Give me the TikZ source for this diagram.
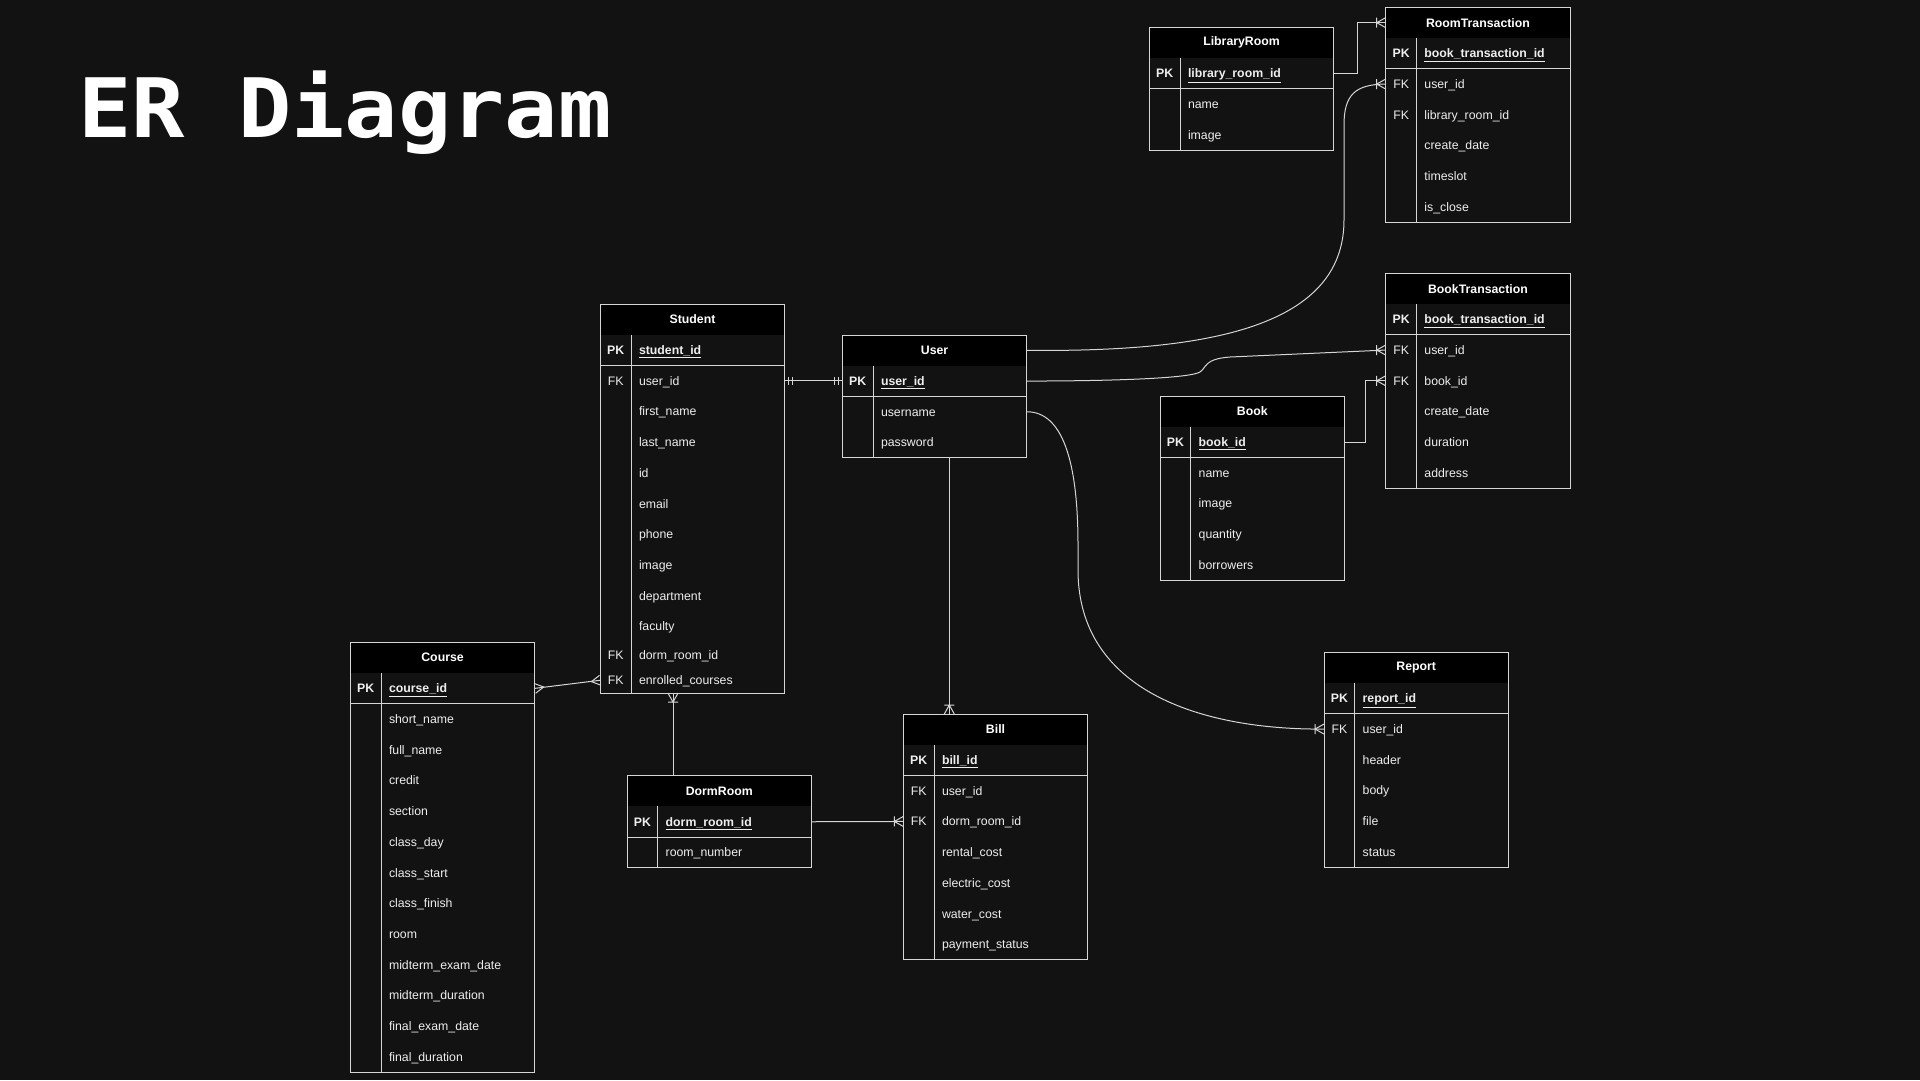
\documentclass[tikz,border=0pt]{standalone}
\usepackage{fontspec}
\setmainfont{Liberation Sans}
\newfontfamily\titlemono{DejaVu Sans Mono}[FakeStretch=1.08]
\usepackage{tikz}

\definecolor{erbg}{RGB}{18,18,18}
\definecolor{edgegray}{RGB}{214,214,214}
\definecolor{cellfg}{RGB}{238,238,238}

% one entity box: [short rows after], name, top left corner, title, primary key, key/field rows
\newcommand{\ertable}[6][99]{%
\node[erhead, anchor=north west] (#2) at (#3) {#4};
\node[errow, minimum height=30.7, anchor=north west] (#2-pk) at (#2.south west) {};
\node[erkey, font=\bfseries\fontsize{12.3}{14}\selectfont] (#2-pk-k) at ([xshift=15.4]#2-pk.west) {PK};
\node[erfield, font=\bfseries\fontsize{12.3}{14}\selectfont] (#2-pk-t) at ([xshift=38.5]#2-pk.west) {\underline{#5}};
\coordinate (#2-last) at (#2-pk.south west);
\foreach \k/\f [count=\i] in {#6} {
\pgfmathsetmacro\rowht{\i>#1 ? 25.7 : 30.7}
\node[errow, minimum height=\rowht, anchor=north west] (#2-\i) at (#2-last) {};
\node[erkey] (#2-\i-k) at ([xshift=15.4]#2-\i.west) {\k};
\node[erfield] (#2-\i-t) at ([xshift=38.5]#2-\i.west) {\f};
\coordinate (#2-last) at (#2-\i.south west);
}
\draw[erline] (#2.north west) rectangle (#2-last -| #2.east);
\draw[erline] (#2-pk.south west) -- (#2-pk.south east);
\draw[erline] ([xshift=30.7]#2.south west) -- ([xshift=30.7]#2-last);
}

\begin{document}
\begin{tikzpicture}[x=1pt, y=-1pt,
erline/.style={draw=edgegray, line width=1pt},
erhead/.style={rectangle, fill=black, minimum width=184.5, minimum height=30.7, inner sep=0, outer sep=0, text=white, font=\bfseries\fontsize{12.3}{14}\selectfont},
errow/.style={rectangle, minimum width=184.5, inner sep=0, outer sep=0},
erkey/.style={inner sep=0, text=cellfg, text height=9, text depth=0, font=\fontsize{12.3}{14}\selectfont},
erfield/.style={anchor=west, inner sep=0, text=cellfg, text height=9, text depth=0, font=\fontsize{12.3}{14}\selectfont},
pics/crowbar/.style={code={\draw[erline] (0,-5) -- (9,0) -- (0,5) (9,-5) -- (9,5);}},
pics/crowfoot/.style={code={\draw[erline] (0,-5) -- (9,0) -- (0,5);}},
pics/onebar/.style={code={\draw[erline] (4,-4) -- (4,4) (8,-4) -- (8,4);}}]
\fill[erbg] (0,0) rectangle (1920,1080);
\useasboundingbox (0,0) rectangle (1920,1080);

\node[font=\titlemono\bfseries\fontsize{82}{90}\selectfont, text=white, anchor=base west, inner sep=0] (title) at (78,137.3) {ER Diagram};

% entities
\ertable{libroom}{1149.3,27.3}{LibraryRoom}{library\_room\_id}{/name, /image}
\ertable{roomtx}{1385.7,7.3}{RoomTransaction}{book\_transaction\_id}{FK/user\_id, FK/library\_room\_id, /create\_date, /timeslot, /is\_close}
\ertable{booktx}{1385.7,273.3}{BookTransaction}{book\_transaction\_id}{FK/user\_id, FK/book\_id, /create\_date, /duration, /address}
\ertable{book}{1160,396}{Book}{book\_id}{/name, /image, /quantity, /borrowers}
\ertable{user}{842.3,335}{User}{user\_id}{/username, /password}
\ertable[9]{student}{600.3,304}{Student}{student\_id}{FK/user\_id, /first\_name, /last\_name, /id, /email, /phone, /image, /department, /faculty, FK/dorm\_room\_id, FK/enrolled\_courses}
\ertable{course}{350.3,642.3}{Course}{course\_id}{/short\_name, /full\_name, /credit, /section, /class\_day, /class\_start, /class\_finish, /room, /midterm\_exam\_date, /midterm\_duration, /final\_exam\_date, /final\_duration}
\ertable{dorm}{627,775.7}{DormRoom}{dorm\_room\_id}{/room\_number}
\ertable{bill}{903.3,714}{Bill}{bill\_id}{FK/user\_id, FK/dorm\_room\_id, /rental\_cost, /electric\_cost, /water\_cost, /payment\_status}
\ertable{report}{1324,652.3}{Report}{report\_id}{FK/user\_id, /header, /body, /file, /status}

% relations
\draw[erline] (libroom-pk.east) -- ++(24,0) |- (roomtx.west);
\pic[rotate=180] at (roomtx.west) {crowbar};

\draw[erline] (user.east) .. controls (1200,352) and (1344,330) .. (1344,220) -- (1344,125) .. controls (1344,95) and (1355,84.3) .. (roomtx-1.west);
\pic[rotate=180] at (roomtx-1.west) {crowbar};

\draw[erline] (user-pk.east) .. controls (1120,381) and (1190,378) .. (1200,372) .. controls (1207,367) and (1204,359) .. (1230,357) -- (booktx-1.west);
\pic[rotate=180] at (booktx-1.west) {crowbar};

\draw[erline] (book-pk.east) -- ++(21,0) |- (booktx-2.west);
\pic[rotate=180] at (booktx-2.west) {crowbar};

\draw[erline] (student-1.east) -- (student-1.east -| user-pk.west);
\pic at (student-1.east) {onebar};
\pic[rotate=180] at (student-1.east -| user-pk.west) {onebar};

\coordinate (billin) at ([xshift=46]bill.north west);
\draw[erline] (billin |- user-2.south) -- (billin);
\pic[rotate=90] at (billin) {crowbar};

\draw[erline] (dorm-pk.east) -- (bill-2.west);
\pic[rotate=180] at (bill-2.west) {crowbar};

\coordinate (dormout) at ([xshift=46]dorm.north west);
\draw[erline] (dormout) -- (dormout |- student-11.south);
\pic[rotate=-90] at (dormout |- student-11.south) {crowbar};

\draw[erline] (course-pk.east) -- (student-11.west);
\pic[rotate=8.7] at (course-pk.east) {crowfoot};
\pic[rotate=188.7] at (student-11.west) {crowfoot};

\draw[erline] (user-1.east) .. controls (1062,411.7) and (1078,460) .. (1078,545) -- (1078,570) .. controls (1078,690) and (1200,730) .. (report-1.west);
\pic[rotate=180] at (report-1.west) {crowbar};
\end{tikzpicture}
\end{document}
